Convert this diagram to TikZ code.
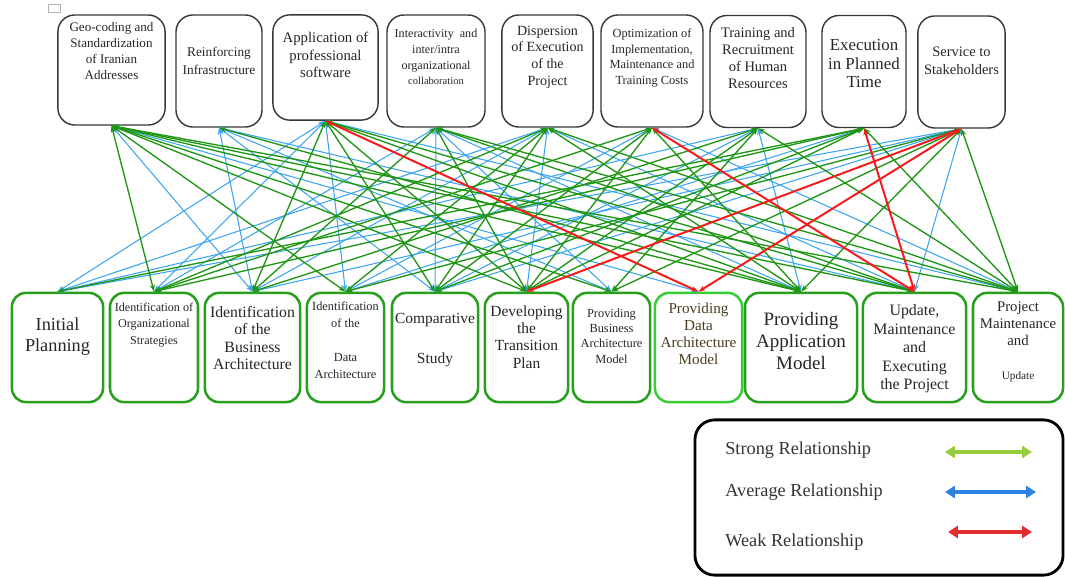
\documentclass[tikz,border=0pt]{standalone}
\usepackage{fontspec}
\setmainfont{Liberation Serif}
\usetikzlibrary{arrows.meta}
\definecolor{boxgray}{RGB}{55,55,55}
\definecolor{boxgreen}{RGB}{40,160,30}
\definecolor{lightgreen}{RGB}{55,205,55}
\definecolor{strongclr}{RGB}{30,150,20}
\definecolor{avgclr}{RGB}{60,165,240}
\definecolor{weakclr}{RGB}{250,25,25}
\definecolor{modeltxt}{RGB}{75,60,30}
\definecolor{keystrong}{RGB}{150,205,60}
\definecolor{keyavg}{RGB}{45,130,225}
\definecolor{keyweak}{RGB}{225,45,45}
\newcommand{\fs}[2]{\fontsize{#1}{#2}\selectfont}

\tikzset{
  topbox/.style={draw=boxgray, line width=1pt, rounded corners=12pt, minimum width=2.3cm, minimum height=2.8cm},
  botbox/.style={draw=boxgreen, line width=1.8pt, rounded corners=10pt, minimum height=2.73cm},
  lbl/.style={align=center, inner sep=0pt, text=black!85},
  tipped/.style={{Stealth[length=5pt,width=3.6pt]}-{Stealth[length=5pt,width=3.6pt]}},
  strong/.style={color=strongclr, line width=0.95pt, tipped},
  avg/.style={color=avgclr, line width=0.75pt, tipped},
  weak/.style={color=weakclr, line width=1.4pt, tipped},
  keyarrow/.style={line width=2.8pt, {Triangle[length=7pt,width=8.5pt]}-{Triangle[length=7pt,width=8.5pt]}},
  keytext/.style={anchor=west, inner sep=0pt, font=\fs{13}{15}, text=black!80}
}

\begin{document}
\begin{tikzpicture}[x=0.025cm, y=-0.025cm]
\useasboundingbox (0,0) rectangle (1065,577);
\draw[black!30, line width=0.6pt] (48,4) rectangle (60,12);

% goals (top row)
\node[topbox, minimum width=2.68cm, minimum height=2.75cm] (T1) at (111.5,70) {};
\node[topbox, minimum width=2.15cm] (T2) at (219,71) {};
\node[topbox, minimum width=2.63cm, minimum height=2.63cm] (T3) at (325.5,67.5) {};
\node[topbox, minimum width=2.45cm] (T4) at (436,71) {};
\node[topbox, minimum width=2.28cm] (T5) at (547.5,71) {};
\node[topbox, minimum width=2.55cm] (T6) at (652,71) {};
\node[topbox, minimum width=2.4cm] (T7) at (758,71.5) {};
\node[topbox, minimum width=2.1cm] (T8) at (864,71.5) {};
\node[topbox, minimum width=2.18cm] (T9) at (961.5,72) {};

\node[lbl, font=\fs{9.3}{11.3}] (T1t) at (111.5,51) {Geo-coding and\\Standardization\\of Iranian\\Addresses};
\node[lbl, font=\fs{9.5}{12.7}] (T2t) at (219,61) {Reinforcing\\Infrastructure};
\node[lbl, font=\fs{10.5}{12.4}] (T3t) at (325.5,55) {Application of\\professional\\software};
\node[lbl, font=\fs{8.6}{11.2}] (T4t) at (436,57) {Interactivity\ \ and\\inter/intra\\organizational\\{\fs{7.5}{11.2}collaboration}};
\node[lbl, font=\fs{10}{11.8}] (T5t) at (547.5,57) {Dispersion\\of Execution\\of the\\Project};
\node[lbl, font=\fs{8.8}{11}] (T6t) at (652,58) {Optimization of\\Implementation,\\Maintenance and\\Training Costs};
\node[lbl, font=\fs{10.3}{12}] (T7t) at (758,58) {Training and\\Recruitment\\of Human\\Resources};
\node[lbl, font=\fs{12}{13.3}] (T8t) at (864,63.5) {Execution\\in Planned\\Time};
\node[lbl, font=\fs{10.3}{12.7}] (T9t) at (961.5,61) {Service to\\Stakeholders};

% phases (bottom row)
\node[botbox, minimum width=2.28cm] (B1) at (57.5,347.5) {};
\node[botbox, minimum width=2.2cm] (B2) at (154,347.5) {};
\node[botbox, minimum width=2.38cm] (B3) at (252.5,347.5) {};
\node[botbox, minimum width=1.93cm] (B4) at (345.5,347.5) {};
\node[botbox, minimum width=2.15cm] (B5) at (435,347.5) {};
\node[botbox, minimum width=2.08cm] (B6) at (526.5,347.5) {};
\node[botbox, minimum width=1.93cm] (B7) at (611.5,347.5) {};
\node[botbox, draw=lightgreen, minimum width=2.18cm] (B8) at (698.5,347.5) {};
\node[botbox, minimum width=2.8cm] (B9) at (801,347.5) {};
\node[botbox, minimum width=2.58cm] (B10) at (914.5,347.5) {};
\node[botbox, minimum width=2.25cm] (B11) at (1018,347.5) {};

\node[lbl, font=\fs{13}{15}] (B1t) at (57.5,337) {Initial\\Planning};
\node[lbl, font=\fs{8.6}{11.5}] (B2t) at (154,325) {Identification of\\Organizational\\Strategies};
\node[lbl, font=\fs{11.2}{12.2}] (B3t) at (252.5,338) {Identification\\of the\\Business\\Architecture};
\node[lbl, font=\fs{8.8}{12}] (B4t) at (345.5,340) {Identification\\of the\\[12pt]Data\\Architecture};
\node[lbl, font=\fs{11}{13}] (B5t) at (435,340) {Comparative\\[16pt]Study};
\node[lbl, font=\fs{11}{12.2}] (B6t) at (526.5,337) {Developing\\the\\Transition\\Plan};
\node[lbl, font=\fs{8.8}{10.8}] (B7t) at (611.5,336) {Providing\\Business\\Architecture\\Model};
\node[lbl, font=\fs{10.8}{12.2}, text=modeltxt] (B8t) at (698.5,334) {Providing\\Data\\Architecture\\Model};
\node[lbl, font=\fs{13.5}{15.5}] (B9t) at (801,341) {Providing\\Application\\Model};
\node[lbl, font=\fs{11.3}{13.2}] (B10t) at (914.5,349) {Update,\\Maintenance\\and\\Executing\\the Project};
\node[lbl, font=\fs{10.5}{12.2}] (B11t) at (1018,342) {Project\\Maintenance\\and\\[12pt]{\fs{8}{9}Update}};

% average relationships
\path[avg] (T1.south) edge (B3.north) edge (B8.north);
\path[avg] (T2.south) edge (B3.north) edge (B5.north) edge (B7.north) edge (B10.north);
\path[avg] (T3.south) edge (B1.north) edge (B2.north) edge (B4.north) edge (B11.north);
\path[avg] (T4.south) edge (B2.north) edge (B5.north) edge (B7.north) edge (B9.north);
\path[avg] (T5.south) edge (B1.north) edge (B3.north) edge (B6.north) edge (B10.north);
\path[avg] (T6.south) edge (B4.north) edge (B11.north);
\path[avg] (T7.south) edge (B1.north) edge (B5.north) edge (B9.north);
\path[avg] (T8.south) edge (B4.north);
\path[avg] (T9.south) edge (B1.north) edge (B3.north) edge (B5.north) edge (B10.north);

% strong relationships
\path[strong] (T1.south) edge (B2.north) edge (B4.north) edge (B6.north) edge (B7.north) edge (B9.north) edge (B10.north) edge (B11.north);
\path[strong] (T2.south) edge (B9.north);
\path[strong] (T3.south) edge (B3.north) edge (B5.north) edge (B6.north) edge (B9.north) edge (B10.north);
\path[strong] (T4.south) edge (B3.north) edge (B6.north) edge (B10.north) edge (B11.north);
\path[strong] (T5.south) edge (B2.north) edge (B4.north) edge (B5.north) edge (B9.north) edge (B11.north);
\path[strong] (T6.south) edge (B2.north) edge (B5.north) edge (B6.north) edge (B9.north);
\path[strong] (T7.south) edge (B3.north) edge (B6.north) edge (B7.north) edge (B11.north);
\path[strong] (T8.south) edge (B1.north) edge (B2.north) edge (B5.north) edge (B6.north) edge (B11.north);
\path[strong] (T9.south) edge (B4.north) edge (B7.north) edge (B9.north) edge (B11.north);

% weak relationships
\path[weak] (T3.south) edge (B8.north);
\path[weak] (T6.south) edge (B10.north);
\path[weak] (T8.south) edge (B10.north);
\path[weak] (T9.south) edge (B6.north) edge (B8.north);

% key
\node[draw=black, line width=2pt, rounded corners=14pt, minimum width=9.2cm, minimum height=3.88cm] (key) at (879,497.5) {};
\node[keytext] (k1) at (725,450) {Strong Relationship};
\node[keytext] (k2) at (725,492) {Average Relationship};
\node[keytext] (k3) at (725,542) {Weak Relationship};
\coordinate (k1a) at (945,452); \coordinate (k1b) at (1032,452);
\coordinate (k2a) at (945,492); \coordinate (k2b) at (1036,492);
\coordinate (k3a) at (948,532); \coordinate (k3b) at (1032,532);
\draw[keyarrow, keystrong] (k1a) -- (k1b);
\draw[keyarrow, keyavg] (k2a) -- (k2b);
\draw[keyarrow, keyweak] (k3a) -- (k3b);
\end{tikzpicture}
\end{document}
